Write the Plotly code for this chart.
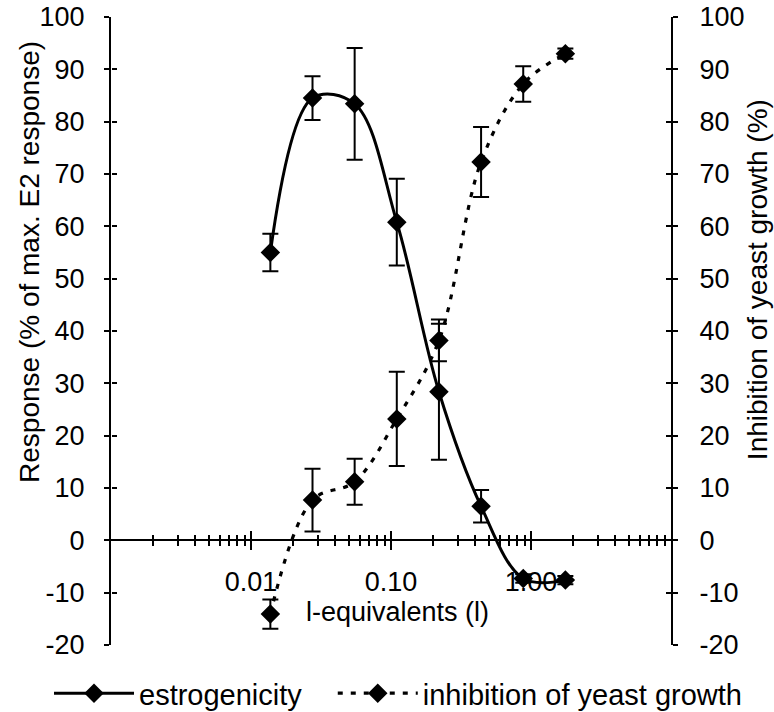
import plotly.graph_objects as go

# ---- data ----
l_equiv = [0.01375, 0.0275, 0.055, 0.11, 0.22, 0.44, 0.88, 1.76]
estrogenicity = [55.0, 84.5, 83.4, 60.8, 28.4, 6.5, -7.3, -7.6]
estrogenicity_err = [3.6, 4.2, 10.7, 8.3, 13.0, 3.1, 0.8, 0.8]
inhibition = [-14.1, 7.7, 11.2, 23.2, 38.2, 72.3, 87.2, 93.0]
inhibition_err = [2.8, 6.0, 4.4, 9.0, 4.0, 6.7, 3.4, 1.0]

x_tickvals = [0.01, 0.1, 1.0]
x_ticktext = ["0.01", "0.10", "1.00"]
x_minor = [k * 10.0 ** e for e in range(-3, 1) for k in range(2, 10)]
y_range = [-20, 100]
y_tickvals = list(range(-20, 101, 10))
y_ticktext = [str(v) for v in y_tickvals]

FONT = "Liberation Sans, Arial, sans-serif"
FS = 27
LEG_FS = 29

fig = go.Figure()
fig.add_trace(go.Scatter(
    x=l_equiv, y=estrogenicity, name="estrogenicity", mode="lines+markers",
    line=dict(color="black", width=3, shape="spline", smoothing=1.0),
    marker=dict(symbol="diamond", size=15, color="black"),
    error_y=dict(type="data", array=estrogenicity_err, visible=True,
                 color="black", thickness=2, width=8),
    xaxis="x", yaxis="y", legend="legend"))
fig.add_trace(go.Scatter(
    x=l_equiv, y=inhibition, name="inhibition of yeast growth", mode="lines+markers",
    line=dict(color="black", width=3.2, shape="spline", smoothing=1.0, dash="5px,8px"),
    marker=dict(symbol="diamond", size=15, color="black"),
    error_y=dict(type="data", array=inhibition_err, visible=True,
                 color="black", thickness=2, width=8),
    xaxis="x", yaxis="y2", legend="legend2"))
# invisible helper traces so the overlay axes (inner half of crossing ticks) are drawn
fig.add_trace(go.Scatter(x=[None], y=[None], xaxis="x2", yaxis="y3",
                         showlegend=False, hoverinfo="skip"))
fig.add_trace(go.Scatter(x=[None], y=[None], xaxis="x2", yaxis="y4",
                         showlegend=False, hoverinfo="skip"))

common_y = dict(range=y_range, tickvals=y_tickvals, ticktext=y_ticktext,
                showgrid=False, zeroline=False,
                tickcolor="black", tickwidth=1.5, ticklen=5,
                tickfont=dict(family=FONT, size=FS, color="black"))
common_x = dict(type="log", range=[-3, 1], showgrid=False, zeroline=False,
                tickvals=x_tickvals, ticktext=x_ticktext,
                tickcolor="black", tickwidth=1.5, ticklen=9,
                anchor="free", position=1/6, domain=[0, 1],
                tickfont=dict(family=FONT, size=FS, color="black"))

legend_common = dict(orientation="h", xanchor="left", y=-0.077, yanchor="middle",
                     font=dict(family=FONT, size=LEG_FS, color="black"),
                     itemwidth=80, bgcolor="rgba(0,0,0,0)")

fig.update_layout(
    width=774, height=712,
    margin=dict(l=111, r=103, t=17, b=67, autoexpand=False),
    paper_bgcolor="white", plot_bgcolor="white",
    showlegend=True,
    xaxis=dict(**common_x, ticks="outside", showline=True, linecolor="black",
               linewidth=2, ticklabelstandoff=8,
               minor=dict(tickvals=x_minor, ticks="outside", ticklen=5,
                          tickwidth=1.5, tickcolor="black", showgrid=False)),
    xaxis2=dict(**common_x, overlaying="x", ticks="inside", showline=False,
                showticklabels=False,
                minor=dict(tickvals=x_minor, ticks="inside", ticklen=5,
                           tickwidth=1.5, tickcolor="black", showgrid=False)),
    yaxis=dict(**common_y, ticks="outside", showline=True, linecolor="black",
               linewidth=2, side="left", anchor="x", ticklabelstandoff=14,
               domain=[0, 1]),
    yaxis2=dict(**common_y, ticks="outside", showline=True, linecolor="black",
                linewidth=2, side="right", overlaying="y", anchor="x",
                ticklabelstandoff=16),
    yaxis3=dict(**common_y, ticks="inside", showline=False, side="left",
                overlaying="y", anchor="free", position=0, showticklabels=False),
    yaxis4=dict(**common_y, ticks="inside", showline=False, side="right",
                overlaying="y", anchor="free", position=1, showticklabels=False),
    legend=dict(**legend_common, x=-0.1107),
    legend2=dict(**legend_common, x=0.396),
    annotations=[
        dict(text="Response (% of max. E2 response)", textangle=-90,
             xref="paper", yref="paper", x=-0.1446, y=0.61,
             xanchor="center", yanchor="middle", showarrow=False,
             font=dict(family=FONT, size=28, color="black")),
        dict(text="Inhibition of yeast growth (%)", textangle=-90,
             xref="paper", yref="paper", x=1.1536, y=0.581,
             xanchor="center", yanchor="middle", showarrow=False,
             font=dict(family=FONT, size=28, color="black")),
        dict(text="l-equivalents (l)", xref="paper", yref="paper",
             x=0.511, y=0.052, xanchor="center", yanchor="middle",
             showarrow=False, font=dict(family=FONT, size=FS, color="black")),
    ],
)

fig.write_html("out.html")
